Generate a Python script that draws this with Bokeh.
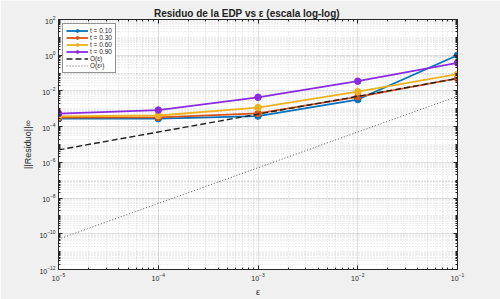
from bokeh.plotting import figure
from bokeh.models import Range1d, FixedTicker, LogAxis, Legend
from bokeh.embed import file_html
from bokeh.resources import INLINE

# step sizes
eps = [1e-5, 1e-4, 1e-3, 1e-2, 1e-1]

# residual infinity-norm for each time level
res_t010 = [2.8e-4, 2.8e-4, 3.9e-4, 3.3e-3, 1.0]
res_t030 = [3.2e-4, 3.3e-4, 5.5e-4, 4.7e-3, 5.0e-2]
res_t060 = [3.8e-4, 4.2e-4, 1.17e-3, 9.1e-3, 8.7e-2]
res_t090 = [5.4e-4, 8.5e-4, 4.4e-3, 3.5e-2, 3.7e-1]

# reference slopes
ref_order1 = [5e-6, 5e-5, 5e-4, 5e-3, 5e-2]
ref_order2 = [5e-11, 5e-9, 5e-7, 5e-5, 5e-3]

series_labels = ["t = 0.10", "t = 0.30", "t = 0.60", "t = 0.90"]
series_colors = ["#0072BD", "#D95319", "#EDB120", "#8A2BE2"]

x_major = [1e-5, 1e-4, 1e-3, 1e-2, 1e-1]
y_major = [1e-12, 1e-10, 1e-8, 1e-6, 1e-4, 1e-2, 1e0, 1e2]

FONT = "Liberation Sans"
INK = "#262626"

x_minor = [k * 10.0 ** n for n in range(-5, -1) for k in range(2, 10)]
y_minor = [k * 10.0 ** n for n in range(-12, 2) for k in range(1, 10) if not (k == 1 and n % 2 == 0)]

p = figure(width=500, height=299, x_axis_type="log", y_axis_type="log",
           output_backend="svg", toolbar_location=None,
           x_range=Range1d(1e-5, 1e-1), y_range=Range1d(1e-12, 1e2),
           min_border_left=58, min_border_right=43, min_border_top=19,
           min_border_bottom=27)
p.background_fill_color = "white"
p.border_fill_color = "#f0f0f0"
p.outline_line_color = INK
p.outline_line_width = 1

p.title.text = "Residuo  de  la  EDP  vs  \u03b5   (escala  log-log)"
p.title.text_font = FONT
p.title.text_font_size = "10px"
p.title.text_font_style = "bold"
p.title.text_color = "#222222"
p.title.align = "center"
p.title.offset = 0
p.title.standoff = 1

xt = FixedTicker(ticks=x_major, minor_ticks=x_minor)
yt = FixedTicker(ticks=y_major, minor_ticks=y_minor)

p.xaxis.ticker = xt
p.yaxis.ticker = yt
for ax in (p.xaxis[0], p.yaxis[0]):
    ax.major_label_text_font = FONT
    ax.major_label_text_font_size = "7px"
    ax.major_label_text_color = INK
    ax.axis_label_text_font = FONT
    ax.axis_label_text_font_size = "9px"
    ax.axis_label_text_font_style = "normal"
    ax.axis_label_text_color = INK
    ax.axis_line_color = INK
    ax.major_tick_line_color = INK
    ax.minor_tick_line_color = INK
    ax.major_tick_in = 4
    ax.major_tick_out = 0
    ax.minor_tick_in = 2
    ax.minor_tick_out = 0
    ax.major_label_standoff = 3
    ax.axis_label_standoff = 3
p.xaxis.axis_label = "\u03b5"
p.yaxis.axis_label = "||Residuo||\u221e"

# mirrored tick marks on the top and right edges
for side, tk in (("above", xt), ("right", yt)):
    ax = LogAxis(ticker=tk)
    ax.major_label_text_font_size = "0px"
    ax.major_label_text_alpha = 0
    ax.axis_line_color = INK
    ax.major_tick_line_color = INK
    ax.minor_tick_line_color = INK
    ax.major_tick_in = 4
    ax.major_tick_out = 0
    ax.minor_tick_in = 2
    ax.minor_tick_out = 0
    ax.major_label_standoff = 0
    p.add_layout(ax, side)

for g in (p.xgrid[0], p.ygrid[0]):
    g.grid_line_color = INK
    g.grid_line_alpha = 0.15
    g.minor_grid_line_color = INK
    g.minor_grid_line_alpha = 0.14
    g.minor_grid_line_dash = "1 2"

items = []
for ys, lab, col in zip([res_t010, res_t030, res_t060, res_t090], series_labels, series_colors):
    r1 = p.line(eps, ys, line_color=col, line_width=1.8)
    r2 = p.scatter(eps, ys, marker="circle", size=6.5, fill_color=col, line_color=col)
    items.append((lab, [r1, r2]))

r_o1 = p.line(eps, ref_order1, line_color="#222222", line_width=1.4, line_dash="6 3")
r_o2 = p.line(eps, ref_order2, line_color="#555555", line_width=1.0, line_dash="1 2")
items.append(("O(\u03b5)", [r_o1]))
items.append(("O(\u03b5\u00b2)", [r_o2]))

leg = Legend(items=items, location="top_left")
leg.label_text_font = FONT
leg.label_text_font_size = "6.5px"
leg.label_text_color = INK
leg.glyph_width = 22
leg.glyph_height = 7
leg.label_height = 7
leg.label_standoff = 2
leg.spacing = 0
leg.padding = 3
leg.margin = 4
leg.border_line_color = INK
leg.border_line_width = 1
leg.background_fill_color = "white"
leg.background_fill_alpha = 1
p.add_layout(leg, "center")

open("out.html", "w").write(file_html(p, INLINE))
